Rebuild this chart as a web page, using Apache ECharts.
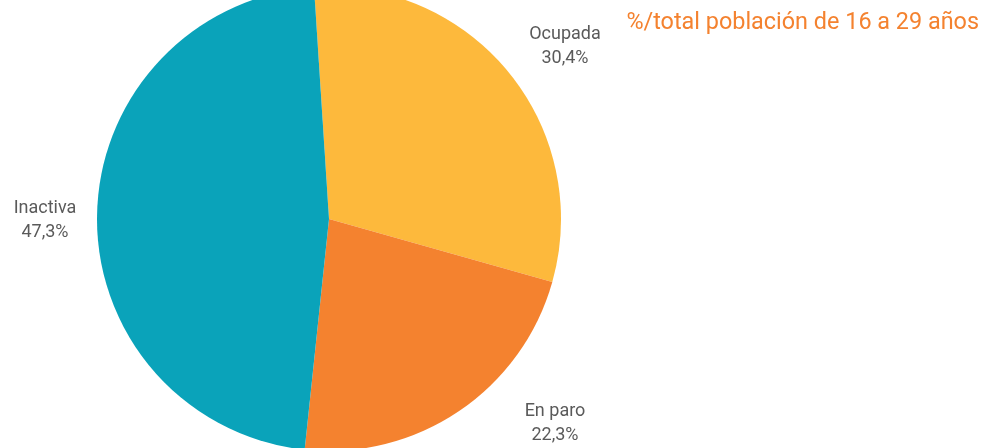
<!DOCTYPE html>
<html>
<head>
<meta charset="utf-8">
<script src="https://cdn.jsdelivr.net/npm/echarts@6/dist/echarts.min.js"></script>
<style>
    html, body { margin: 0; padding: 0; background: #fff; }
    #chart { width: 994px; height: 448px; }
</style>
</head>
<body>
<div id="chart"></div>
<script>
// datos
var categorias = ['Ocupada', 'En paro', 'Inactiva'];
var valores = [30.4, 22.3, 47.3];
var colores = ['#fdb93c', '#f4822f', '#0aa3ba'];
var subtitulo = '%/total población de 16 a 29 años';

// posiciones de las etiquetas (como en el original)
var posEtiquetas = [[565, 46], [555, 423], [45, 220]];

var datos = categorias.map(function (c, i) {
    return { name: c, value: valores[i], itemStyle: { color: colores[i] } };
});

var chart = echarts.init(document.getElementById('chart'));
var option = {
    animation: false,
    title: {
        text: subtitulo,
        right: 10,
        top: 7,
        textStyle: {
            color: '#f4822f',
            fontSize: 23.4,
            fontWeight: 'normal',
            fontFamily: 'Roboto'
        }
    },
    series: [
        {
            type: 'pie',
            center: [329, 219],
            radius: 232,
            startAngle: 93.7,
            clockwise: true,
            data: datos,
            itemStyle: { borderWidth: 0 },
            label: {
                show: true,
                position: 'outside',
                color: '#5a5a5a',
                fontSize: 18,
                lineHeight: 24,
                fontFamily: 'Roboto',
                align: 'center',
                overflow: 'none',
                formatter: function (p) {
                    return p.name + '\n' + p.value.toFixed(1).replace('.', ',') + '%';
                }
            },
            labelLine: { show: false },
            labelLayout: function (params) {
                var p = posEtiquetas[params.dataIndex];
                return { x: p[0], y: p[1], align: 'center', verticalAlign: 'middle' };
            }
        }
    ]
};
chart.setOption(option);
</script>
</body>
</html>
